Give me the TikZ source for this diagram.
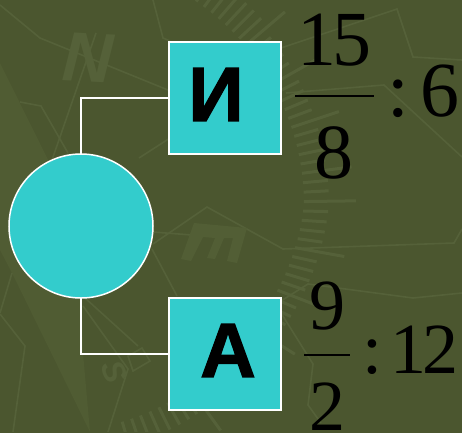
\documentclass[tikz,border=0pt]{standalone}
\usetikzlibrary{calc}
\usepackage{fontspec}
\setmainfont{Liberation Serif}
\newfontfamily\lsans{Liberation Sans}
\definecolor{bgc}{HTML}{4B562F}
\definecolor{decoc}{HTML}{556139}
\definecolor{needlec}{HTML}{505C33}
\definecolor{tealc}{HTML}{33CCCC}
\tikzset{
  deco/.style={draw=decoc,line width=1.6pt,line join=miter},
  tickmark/.style={draw=decoc,line width=3pt},
  decoletter/.style={text=decoc,inner sep=0pt,font=\lsans\bfseries\itshape},
  tile/.style={draw=white,fill=tealc,line width=2pt,minimum size=112pt,inner sep=0pt,outer sep=0pt},
  disc/.style={circle,draw=white,fill=tealc,line width=1.5pt,minimum size=144pt,inner sep=0pt,outer sep=0pt},
  link/.style={draw=white,line width=1.6pt},
  tilelabel/.style={inner sep=0pt,text=black,font=\lsans\bfseries\addfontfeature{FakeBold=1.6}\fontsize{77}{80}\selectfont},
  num/.style={anchor=base,inner sep=0pt,text=black,font=\fontsize{78}{84}\selectfont},
  numb/.style={anchor=base,inner sep=0pt,text=black,font=\fontsize{72}{76}\selectfont},
  fracrule/.style={draw=black,line width=2.6pt}
}
\begin{document}
\begin{tikzpicture}[x=1pt,y=-1pt]
\useasboundingbox (0,0) rectangle (462,432);
\fill[bgc] (-3,-3) rectangle (465,435);
\begin{scope}
\clip (-3,-3) rectangle (465,431.5);
% compass needle
\fill[needlec] (0,63) -- (81,226) -- (83,353) -- (90,432) -- (12,273) -- (0,250) -- cycle;
% compass ring ticks
\foreach \a/\l in {-58/30,-55.8/30,-53.6/30,-51.4/52,-49.2/30,-47/30,-44.8/30,-42.6/30,-40.4/52,-38.2/25,-36/25,-33.8/25,-31.6/25,-29.4/50,-27.2/25,-25/25,-22.8/25,-20.6/25,-18.4/50,-16.2/25,-14/25,-11.8/25,-9.6/25,-7.4/50,-5.2/25,-3/25,-0.8/52,1.4/25,3.6/25,5.8/25,8/25,10.2/50,12.4/25,14.6/25,16.8/25,19/25,21.2/50,23.4/25,25.6/25,27.8/25,30/25,32.2/50,34.4/25,36.6/25,38.8/25,41/25,43.2/52,45.4/25,47.6/25,49.8/25,52/25,54.2/52,56.4/25,58.6/25,61/25,63.5/25,66/25,68.6/25,71/25,73.5/25}{
  \pgfmathsetmacro{\rr}{\a<0 ? 246 : (\a<40 ? 246-0.5*\a : 226)}
  \draw[tickmark] ($(58,205)+(\a:\rr)$) -- ($(58,205)+(\a:\rr+\l)$);
}
% map lines
\draw[deco] (0,5) -- (40,38) -- (168,90);
\draw[deco] (153,0) -- (163,38) -- (170,41);
\draw[deco] (96,33) -- (52,160);
\draw[deco] (20,102) -- (41,106) -- (68,153);
\draw[deco] (139,158) -- (170,138);
\draw[deco] (12,273) -- (0,313);
\draw[deco] (0,314) -- (25,346) -- (13,432);
\draw[deco] (152,249) -- (177,296);
\draw[deco] (153,244) -- (207,207) -- (283,249) -- (454,243) -- (462,229);
\draw[deco] (153,232) -- (192,235);
\draw[deco] (85,298) -- (138,346);
\draw[deco] (83,306) -- (128,369) -- (108,432);
\draw[deco] (133,371) -- (150,361) -- (142,348) -- (128,356) -- cycle;
\draw[deco] (281,48) -- (397,9) -- (413,57) -- (462,60);
\draw[deco] (286,93) -- (384,85) -- (462,157);
\draw[deco] (281,301) -- (308,284) -- (413,298) -- (462,293);
\draw[deco] (281,313) -- (313,364) -- (308,405) -- (321,423);
% compass letter E, lying on its side
\fill[needlec!60!decoc] (194,223) -- (247,228) -- (237,263) -- (227,261) -- (233,238) -- (224,238) -- (215,259) -- (207,258) -- (215,238) -- (203,237) -- (191,261) -- (181,259) -- cycle;
\end{scope}
% compass letters
\node[decoletter,rotate=-3] (letN) at (88,58) {\fontsize{70}{72}\selectfont N};
\node[decoletter,rotate=-70] (letS) at (114,372) {\fontsize{32}{34}\selectfont S};
% main figure
\node[tile] (boxI) at (225,98) {};
\node[tile] (boxA) at (225,354) {};
\node[disc] (circ) at (81,226) {};
\draw[link] (circ.north) |- (boxI.west);
\draw[link] (circ.south) |- (boxA.west);
\node[tilelabel] (lblI) at (216,94.5) {И};
\node[tilelabel] (lblA) at (228,350.5) {А};
% expressions
\node[num] (n15) at (334,65) {1\kern-4pt 5};
\node[num] (n8) at (334,178) {8};
\coordinate (ruleAl) at (295,96);
\coordinate (ruleAr) at (374,96);
\draw[fracrule] (ruleAl) -- (ruleAr);
\node[num] (col1) at (398,116) {:};
\node[num] (n6) at (440,116) {6};
\node[numb] (n9) at (327,329) {9};
\node[numb] (n2) at (327,430) {2};
\coordinate (ruleBl) at (304,355);
\coordinate (ruleBr) at (350,355);
\draw[fracrule] (ruleBl) -- (ruleBr);
\node[numb] (col2) at (372,373) {:};
\node[numb] (n12) at (424,373) {1\kern-4pt 2};
\end{tikzpicture}
\end{document}
